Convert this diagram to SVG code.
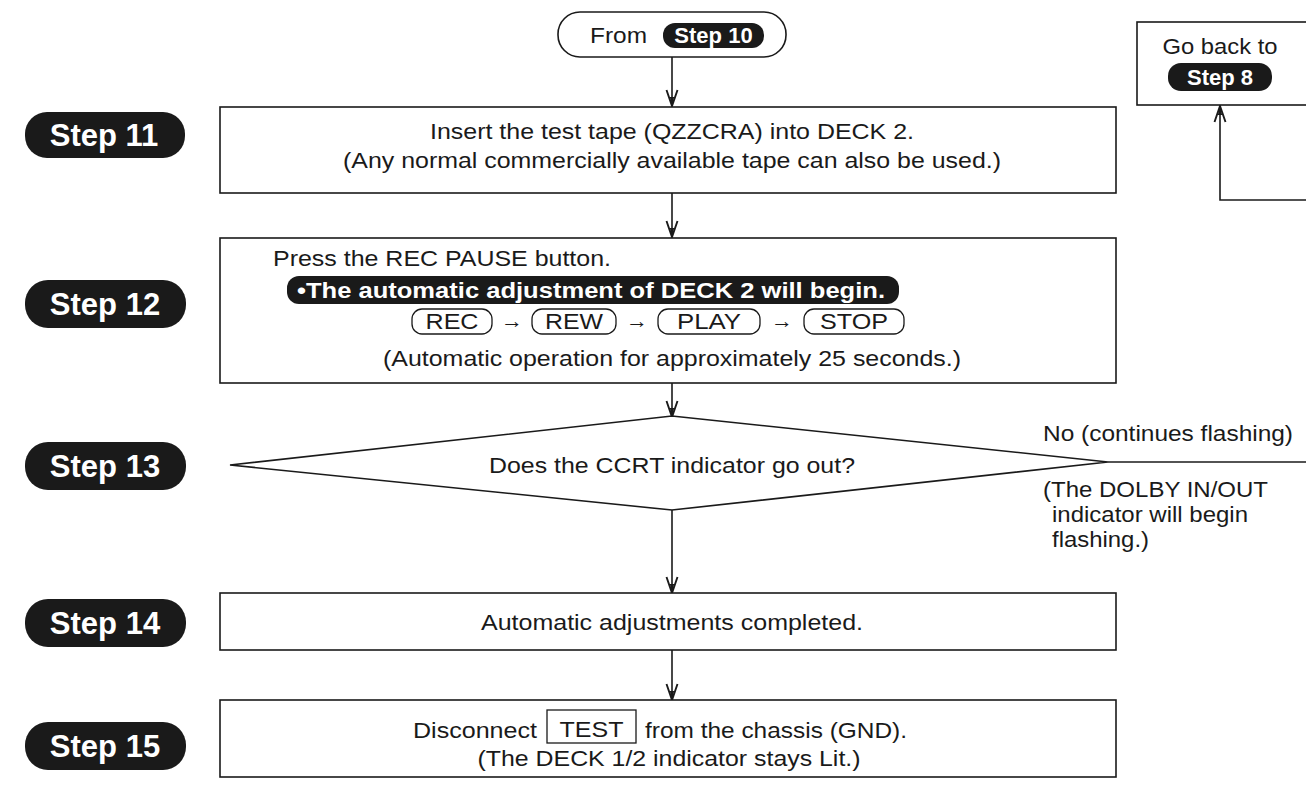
<svg xmlns="http://www.w3.org/2000/svg" width="1306" height="805" viewBox="0 0 1306 805">
<defs>
<style>
.t{font-family:"Liberation Sans",Arial,sans-serif;font-size:22px;fill:#1a1a1a}
.b{font-family:"Liberation Sans",Arial,sans-serif;font-weight:bold;fill:#fff}
.box{fill:#fff;stroke:#1a1a1a;stroke-width:1.6}
.pill{fill:#1a1a1a}
.ln{fill:none;stroke:#1a1a1a;stroke-width:1.6}
.key{fill:none;stroke:#1a1a1a;stroke-width:1.3}
</style>
<marker id="arr" viewBox="-18 -8 20 16" markerWidth="20" markerHeight="16" refX="0" refY="0" orient="auto" markerUnits="userSpaceOnUse">
<path d="M-16,-5.5 L0,0 L-16,5.5" fill="none" stroke="#1a1a1a" stroke-width="1.9"/>
<path d="M-9,-2.2 L0,0 L-9,2.2 Z" fill="#1a1a1a"/>
</marker>
</defs>
<rect width="1306" height="805" fill="#fff"/>

<g id="connectors">
<line class="ln" x1="672" y1="57" x2="672" y2="106" marker-end="url(#arr)"/>
<line class="ln" x1="672" y1="193" x2="672" y2="237" marker-end="url(#arr)"/>
<line class="ln" x1="672" y1="383" x2="672" y2="417" marker-end="url(#arr)"/>
<line class="ln" x1="672" y1="510" x2="672" y2="593" marker-end="url(#arr)"/>
<line class="ln" x1="672" y1="650" x2="672" y2="700" marker-end="url(#arr)"/>
<polyline class="ln" points="1306,462 1108,462"/>
<polyline class="ln" points="1306,200 1220,200 1220,106" marker-end="url(#arr)"/>
<text class="t" x="686" y="500" textLength="43" lengthAdjust="spacingAndGlyphs">Yes</text>
<text class="t" x="1043" y="441" textLength="250" lengthAdjust="spacingAndGlyphs">No (continues flashing)</text>
<text class="t" x="1043" y="497" textLength="225" lengthAdjust="spacingAndGlyphs">(The DOLBY IN/OUT</text>
<text class="t" x="1052" y="522" textLength="196" lengthAdjust="spacingAndGlyphs">indicator will begin</text>
<text class="t" x="1052" y="547" textLength="97" lengthAdjust="spacingAndGlyphs">flashing.)</text>
</g>

<g id="start">
<rect class="box" x="558" y="12" width="228" height="45" rx="22" ry="22"/>
<text class="t" x="590" y="43" textLength="57" lengthAdjust="spacingAndGlyphs">From</text>
<rect class="pill" x="663" y="23" width="101" height="25" rx="12"/>
<text class="b" x="713.5" y="43" font-size="22" text-anchor="middle">Step 10</text>
</g>

<g id="goback">
<rect class="box" x="1137" y="22" width="180" height="83"/>
<text class="t" x="1220" y="54" text-anchor="middle" textLength="115" lengthAdjust="spacingAndGlyphs">Go back to</text>
<rect class="pill" x="1168" y="63" width="104" height="28" rx="13"/>
<text class="b" x="1220" y="85" font-size="22" text-anchor="middle">Step 8</text>
</g>

<g id="step11">
<rect class="pill" x="25" y="112" width="160" height="46" rx="22"/>
<text class="b" x="104" y="146" font-size="31" text-anchor="middle">Step 11</text>
<rect class="box" x="220" y="107" width="896" height="86"/>
<text class="t" x="672" y="139" text-anchor="middle" textLength="484" lengthAdjust="spacingAndGlyphs">Insert the test tape (QZZCRA) into DECK 2.</text>
<text class="t" x="672" y="168" text-anchor="middle" textLength="658" lengthAdjust="spacingAndGlyphs">(Any normal commercially available tape can also be used.)</text>
</g>

<g id="step12">
<rect class="pill" x="25" y="280" width="161" height="48" rx="23"/>
<text class="b" x="105" y="315" font-size="31" text-anchor="middle">Step 12</text>
<rect class="box" x="220" y="238" width="896" height="145"/>
<text class="t" x="273" y="266" textLength="338" lengthAdjust="spacingAndGlyphs">Press the REC PAUSE button.</text>
<rect class="pill" x="287" y="276" width="612" height="28" rx="12"/>
<text class="b" x="297" y="298" font-size="22" textLength="588" lengthAdjust="spacingAndGlyphs">•The automatic adjustment of DECK 2 will begin.</text>
<rect class="key" x="412" y="309" width="80" height="25" rx="10"/>
<text class="t" x="452" y="329" text-anchor="middle" textLength="53" lengthAdjust="spacingAndGlyphs">REC</text>
<text class="t" x="512" y="328" text-anchor="middle">→</text>
<rect class="key" x="532" y="309" width="84" height="25" rx="10"/>
<text class="t" x="574" y="329" text-anchor="middle" textLength="58" lengthAdjust="spacingAndGlyphs">REW</text>
<text class="t" x="637" y="328" text-anchor="middle">→</text>
<rect class="key" x="658" y="309" width="102" height="25" rx="10"/>
<text class="t" x="709" y="329" text-anchor="middle" textLength="64" lengthAdjust="spacingAndGlyphs">PLAY</text>
<text class="t" x="782" y="328" text-anchor="middle">→</text>
<rect class="key" x="804" y="309" width="100" height="25" rx="10"/>
<text class="t" x="854" y="329" text-anchor="middle" textLength="68" lengthAdjust="spacingAndGlyphs">STOP</text>
<text class="t" x="672" y="366" text-anchor="middle" textLength="578" lengthAdjust="spacingAndGlyphs">(Automatic operation for approximately 25 seconds.)</text>
</g>

<g id="step13">
<rect class="pill" x="25" y="442" width="161" height="48" rx="23"/>
<text class="b" x="105" y="477" font-size="31" text-anchor="middle">Step 13</text>
<polygon class="box" points="230,465 672,416 1108,462 672,510"/>
<text class="t" x="672" y="473" text-anchor="middle" textLength="366" lengthAdjust="spacingAndGlyphs">Does the CCRT indicator go out?</text>
</g>

<g id="step14">
<rect class="pill" x="25" y="599" width="161" height="48" rx="23"/>
<text class="b" x="105" y="634" font-size="31" text-anchor="middle">Step 14</text>
<rect class="box" x="220" y="593" width="896" height="57"/>
<text class="t" x="672" y="630" text-anchor="middle" textLength="382" lengthAdjust="spacingAndGlyphs">Automatic adjustments completed.</text>
</g>

<g id="step15">
<rect class="pill" x="25" y="722" width="161" height="48" rx="23"/>
<text class="b" x="105" y="757" font-size="31" text-anchor="middle">Step 15</text>
<rect class="box" x="220" y="700" width="896" height="77"/>
<text class="t" x="413" y="738" textLength="124" lengthAdjust="spacingAndGlyphs">Disconnect</text>
<rect class="key" x="547" y="710" width="89" height="33"/>
<text class="t" x="591.5" y="737" text-anchor="middle" textLength="64" lengthAdjust="spacingAndGlyphs">TEST</text>
<text class="t" x="645" y="738" textLength="262" lengthAdjust="spacingAndGlyphs">from the chassis (GND).</text>
<text class="t" x="669" y="766" text-anchor="middle" textLength="383" lengthAdjust="spacingAndGlyphs">(The DECK 1/2 indicator stays Lit.)</text>
</g>
</svg>
